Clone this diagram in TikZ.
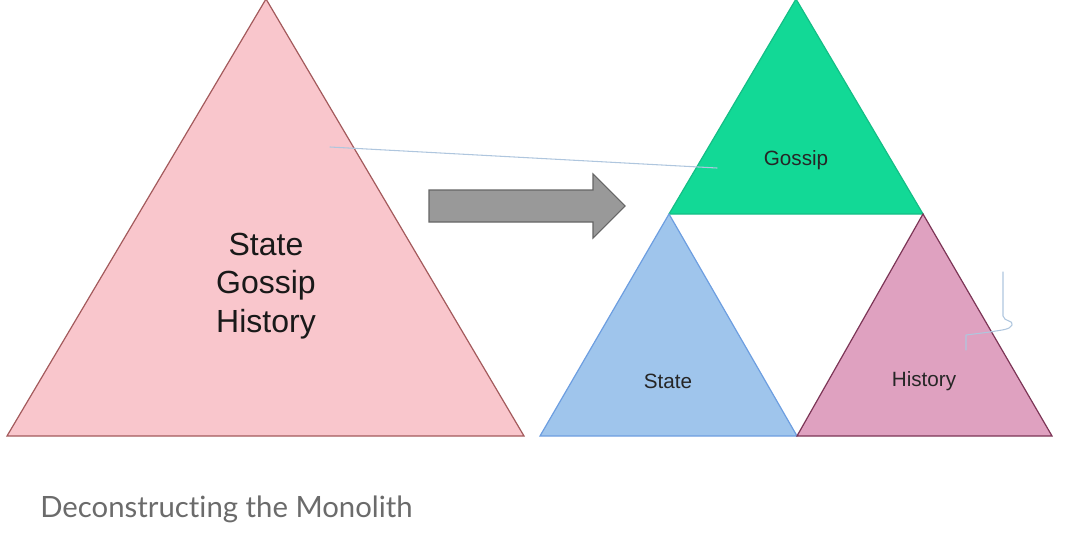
\documentclass[tikz,border=0pt]{standalone}
\usepackage{fontspec}
\setmainfont{Liberation Sans}
\newfontfamily\titlefont[Ligatures=NoCommon]{Lato}
\usetikzlibrary{positioning}

\definecolor{monofill}{HTML}{F9C6CC}
\definecolor{monodraw}{HTML}{A35A5C}
\definecolor{gossipfill}{HTML}{12D996}
\definecolor{gossipdraw}{HTML}{14BE86}
\definecolor{statefill}{HTML}{9FC5EC}
\definecolor{statedraw}{HTML}{6D9EE0}
\definecolor{histfill}{HTML}{DFA1C0}
\definecolor{histdraw}{HTML}{7C3556}
\definecolor{arrowfill}{HTML}{999999}
\definecolor{arrowdraw}{HTML}{666666}
\definecolor{penblue}{HTML}{AFC6DE}
\definecolor{titlegray}{HTML}{6B6B6B}

\pgfdeclarelayer{background}
\pgfdeclarelayer{foreground}
\pgfsetlayers{background,main,foreground}

\begin{document}
\begin{tikzpicture} [
	   x=0.75pt, y=-0.75pt,
	   piece/.style    = { line width=0.9pt, line join=miter },
	   biglabel/.style = { font=\fontsize{24}{29}\selectfont, align=center, text=black!90 },
	   label/.style    = { font=\fontsize{15.5}{18}\selectfont, text=black!85 },
	   pen/.style      = { draw=penblue, line width=0.8pt, line cap=round, line join=round },
	 ]
	  \useasboundingbox (0,0) rectangle (1080,532);

	  % corners of the triangles
	  \coordinate (monoTop) at (266,-1);
	  \coordinate (monoL) at (7,436);
	  \coordinate (monoR) at (524,436);
	  \coordinate (gosTop) at (796,-1);
	  \coordinate (gosL) at (669,214);
	  \coordinate (gosR) at (923,214);
	  \coordinate (stL) at (540,436);
	  \coordinate (mid) at (797,436);
	  \coordinate (hiR) at (1052,436);

	  % the monolith
	  \path[piece, fill=monofill, draw=monodraw] (monoTop) -- (monoR) -- (monoL) -- cycle;
	  \node[biglabel] (mono) at (266,286) {State\\Gossip\\History};

	  % the three pieces
	  \path[piece, fill=gossipfill, draw=gossipdraw] (gosTop) -- (gosR) -- (gosL) -- cycle;
	  \path[piece, fill=statefill, draw=statedraw] (gosL) -- (mid) -- (stL) -- cycle;
	  \path[piece, fill=histfill, draw=histdraw] (gosR) -- (hiR) -- (mid) -- cycle;
	  \node[label] (gossip) at (796,160) {Gossip};
	  \node[label] (state) at (668,381) {State};
	  \node[label] (history) at (924,381) {History};

	  % block arrow
	  \path[fill=arrowfill, draw=arrowdraw, line width=0.8pt]
		(429,190) -- (593,190) -- (593,174) -- (625,206) -- (593,238) -- (593,222) -- (429,222) -- cycle;

	  \node[font=\titlefont\fontsize{22}{26}\selectfont, text=titlegray, anchor=base west, inner sep=0pt] (title) at (40,517) {Deconstructing the Monolith};

	 \begin{pgfonlayer}{foreground}
	  % pen marks
		\coordinate (penA) at (330,147);
		\coordinate (penB) at (717,168);
		\path[pen] (penA) -- (penB);
		\path[pen] (1003,272) -- (1003,316) .. controls (1004,322) and (1014,320) .. (1012,325)
			.. controls (1010,330) and (1000,330) .. (990,332) -- (966,335) -- (966,350);
	 \end{pgfonlayer}
	\end{tikzpicture}
\end{document}
